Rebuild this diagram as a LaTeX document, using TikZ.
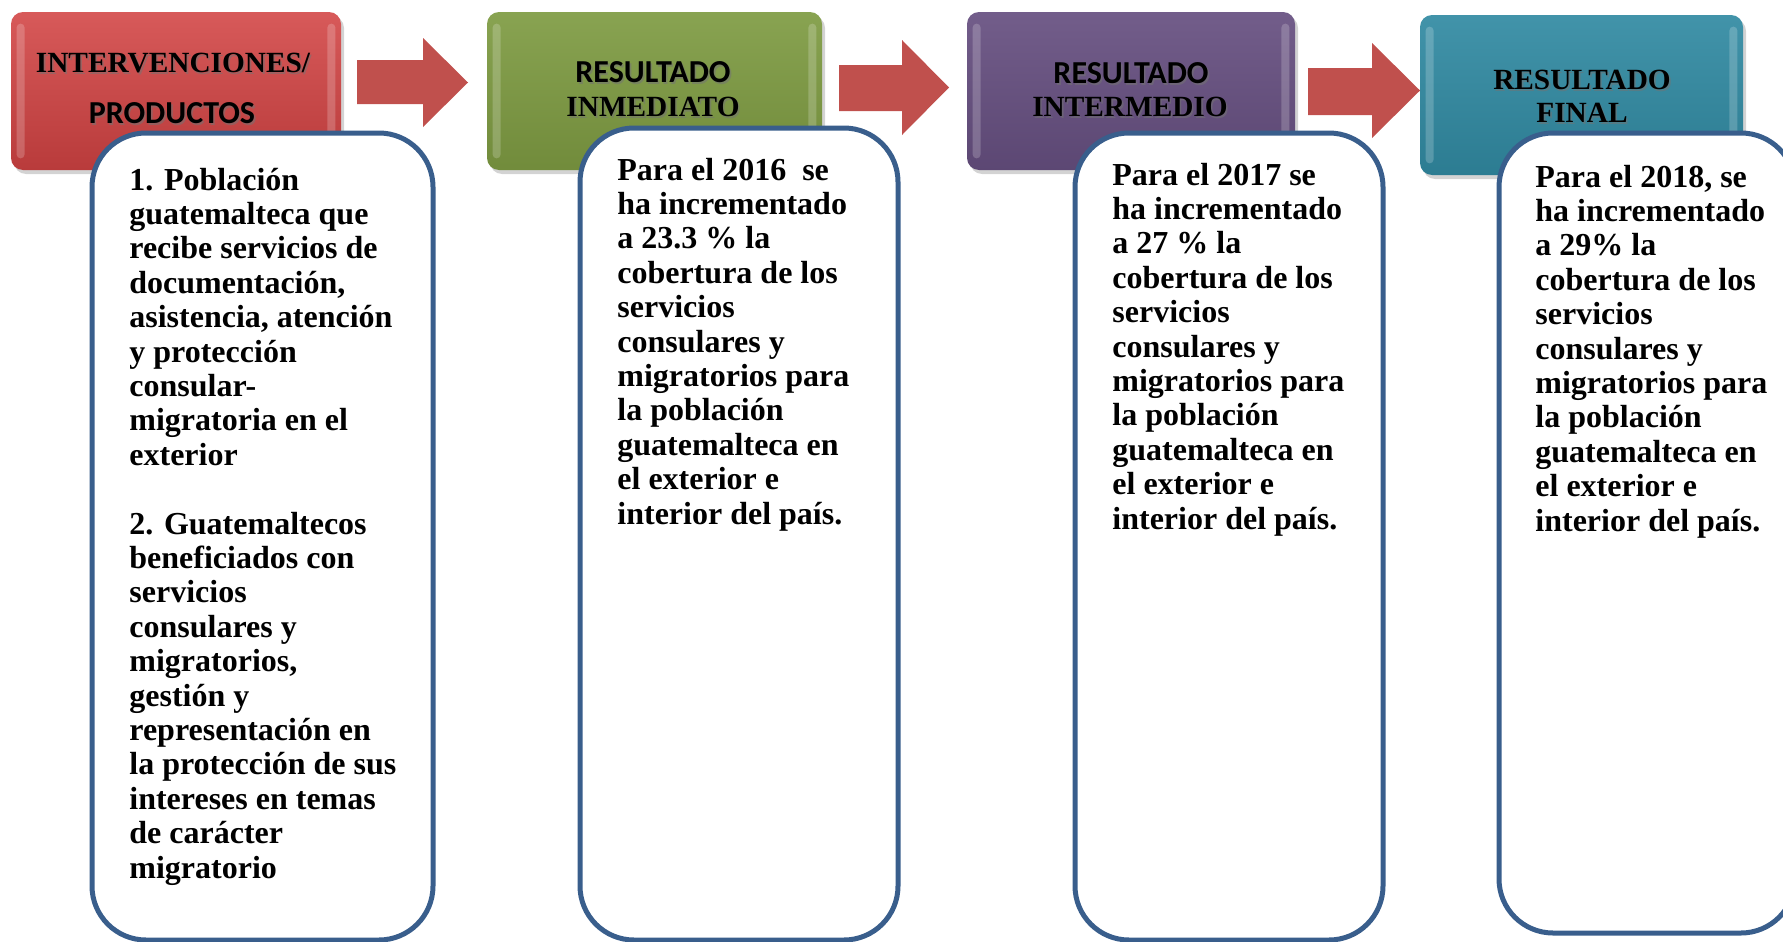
\documentclass[tikz,border=0pt]{standalone}
\usepackage{fontspec}
\setmainfont{Liberation Serif}
\newfontfamily\hsans{Carlito}
\usetikzlibrary{shadows}
\definecolor{boxblue}{HTML}{395E8C}
\definecolor{arrred}{HTML}{C0504D}
\definecolor{hred}{HTML}{D24343}
\definecolor{hgreen}{HTML}{7E9B42}
\definecolor{hpurple}{HTML}{664F80}
\definecolor{hteal}{HTML}{318AA2}
\tikzset{
 hbox/.style={rectangle, inner sep=0pt, rounded corners=6pt,
   drop shadow={opacity=0.35, shadow xshift=1.5pt, shadow yshift=-2pt}},
 tbox/.style={rectangle, inner sep=0pt, draw=boxblue, line width=2.5pt, fill=white, rounded corners=27pt},
 arrowshape/.style={fill=arrred},
 hserif/.style={font=\fontsize{14.65}{16}\selectfont\bfseries},
 hsansf/.style={font=\hsans\fontsize{16}{17}\selectfont\bfseries},
 body/.style={anchor=base west, inner sep=0pt, font=\fontsize{16}{17.2}\selectfont\bfseries},
 strip/.style={fill=white, opacity=0.2, rounded corners=2pt},
}
\newcommand\htext[4]{%
  \node[#3, text=black!55, opacity=0.55, inner sep=0pt, xshift=0.8pt, yshift=-0.9pt] (#1s) at (#2) {#4};
  \node[#3, inner sep=0pt] (#1) at (#2) {#4};}
\newcommand\bevel[1]{%
  \fill[strip] ([xshift=3pt,yshift=-6pt]#1.north west) rectangle ([xshift=7pt,yshift=6pt]#1.south west);
  \fill[strip] ([xshift=-7pt,yshift=-6pt]#1.north east) rectangle ([xshift=-3pt,yshift=6pt]#1.south east);}
\begin{document}
\begin{tikzpicture}[x=0.5pt,y=-0.5pt]
\useasboundingbox (0,0) rectangle (1783,942);
% header boxes
\node[hbox, top color=hred!88!white, bottom color=hred!88!black, minimum width=165pt, minimum height=79pt] (h1) at (176,91) {};
\node[hbox, top color=hgreen!92!white, bottom color=hgreen!90!black, minimum width=167.5pt, minimum height=79pt] (h2) at (654.5,91) {};
\node[hbox, top color=hpurple!92!white, bottom color=hpurple!90!black, minimum width=164pt, minimum height=79pt] (h3) at (1131,91) {};
\node[hbox, top color=hteal!92!white, bottom color=hteal!90!black, minimum width=161.5pt, minimum height=80pt] (h4) at (1581.5,95) {};
\bevel{h1}\bevel{h2}\bevel{h3}\bevel{h4}
% header texts
\htext{l1a}{173,63}{hserif}{INTERVENCIONES/}
\htext{l1b}{172,113}{hsansf}{PRODUCTOS}
\htext{l2a}{653,72}{hsansf}{RESULTADO}
\htext{l2b}{653,107}{hserif}{INMEDIATO}
\htext{l3a}{1131,73}{hsansf}{RESULTADO}
\htext{l3b}{1130,107}{hserif}{INTERMEDIO}
\htext{l4a}{1582,80}{hserif}{RESULTADO}
\htext{l4b}{1582,113}{hserif}{FINAL}
% block arrows
\fill[arrowshape] (357,60) -- (423,60) -- (423,38) -- (468,82.5) -- (423,127) -- (423,104) -- (357,104) -- cycle;
\fill[arrowshape] (839,65) -- (902,65) -- (902,40) -- (949,87.5) -- (902,135) -- (902,111) -- (839,111) -- cycle;
\fill[arrowshape] (1308,68) -- (1372,68) -- (1372,43) -- (1420,90.5) -- (1372,138) -- (1372,115) -- (1308,115) -- cycle;
% text boxes
\node[tbox, minimum width=170.5pt, minimum height=403.5pt] (b1) at (262.5,536.5) {};
\node[tbox, minimum width=159pt, minimum height=406pt] (b2) at (739,534) {};
\node[tbox, minimum width=154pt, minimum height=403.5pt] (b3) at (1229,536.5) {};
\node[tbox, minimum width=148pt, minimum height=400pt] (b4) at (1647,533) {};
% body texts
\node[body] (t1) at (129,190) {\parbox[t]{170pt}{\raggedright
1. Población\\
guatemalteca que\\
recibe servicios de\\
documentación,\\
asistencia, atención\\
y protección\\
consular-\\
migratoria en el\\
exterior\\[17.2pt]
2. Guatemaltecos\\
beneficiados con\\
servicios\\
consulares y\\
migratorios,\\
gestión y\\
representación en\\
la protección de sus\\
intereses en temas\\
de carácter\\
migratorio}};
\node[body] (t2) at (617,180) {\parbox[t]{150pt}{\raggedright
Para el 2016~ se\\
ha incrementado\\
a 23.3 \% la\\
cobertura de los\\
servicios\\
consulares y\\
migratorios para\\
la población\\
guatemalteca en\\
el exterior e\\
interior del país.}};
\node[body] (t3) at (1112,185) {\parbox[t]{150pt}{\raggedright
Para el 2017 se\\
ha incrementado\\
a 27 \% la\\
cobertura de los\\
servicios\\
consulares y\\
migratorios para\\
la población\\
guatemalteca en\\
el exterior e\\
interior del país.}};
\node[body] (t4) at (1535,187) {\parbox[t]{150pt}{\raggedright
Para el 2018, se\\
ha incrementado\\
a 29\% la\\
cobertura de los\\
servicios\\
consulares y\\
migratorios para\\
la población\\
guatemalteca en\\
el exterior e\\
interior del país.}};
\end{tikzpicture}
\end{document}
